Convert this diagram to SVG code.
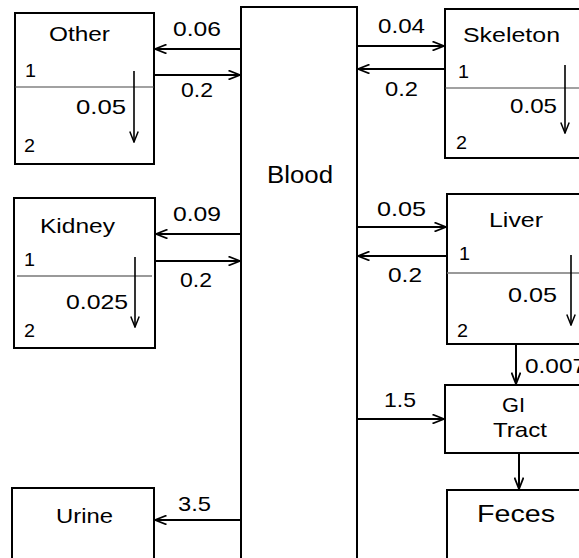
<svg xmlns="http://www.w3.org/2000/svg" width="579" height="558" viewBox="0 0 579 558">
<style>
.box{fill:#fff;stroke:#000;stroke-width:2}
.div{stroke:#444;stroke-width:1.2}
.div2{stroke:#777;stroke-width:1.4}
.ln{stroke:#000;stroke-width:2;fill:none}
.dn{stroke:#000;stroke-width:1.6;fill:none}
text{font-family:"Liberation Sans",Arial,sans-serif;fill:#000}
.t{font-size:21px}
.s{font-size:18px}
.b{font-size:23px}
</style>
<defs>
<marker id="a" viewBox="0 0 13 10" refX="12" refY="5" markerWidth="13" markerHeight="10" orient="auto" markerUnits="userSpaceOnUse">
<path d="M0.5,0.5 L12,5 L0.5,9.5" fill="none" stroke="#000" stroke-width="1.8"/>
</marker>
<marker id="d" viewBox="0 0 10 12" refX="5" refY="11" markerWidth="10" markerHeight="12" orient="0" markerUnits="userSpaceOnUse">
<path d="M0.8,0.5 L5,11 L9.2,0.5" fill="none" stroke="#000" stroke-width="1.5"/>
</marker>
</defs>

<g id="blood">
<rect class="box" x="241" y="7" width="116" height="600"/>
<text class="b" x="267" y="183" textLength="66" lengthAdjust="spacingAndGlyphs">Blood</text>
</g>

<g id="other">
<rect class="box" x="15" y="13" width="139" height="151"/>
<line class="div" x1="15" y1="87" x2="154" y2="87"/>
<text class="t" x="49" y="41" textLength="61" lengthAdjust="spacingAndGlyphs">Other</text>
<text class="s" x="25" y="77" textLength="11" lengthAdjust="spacingAndGlyphs">1</text>
<text class="s" x="24" y="152" textLength="11" lengthAdjust="spacingAndGlyphs">2</text>
<text class="t" x="76" y="114" textLength="50" lengthAdjust="spacingAndGlyphs">0.05</text>
<line class="dn" x1="134" y1="71" x2="134" y2="142" marker-end="url(#d)"/>
</g>

<g id="skeleton">
<rect class="box" x="445" y="9" width="200" height="149"/>
<line class="div" x1="445" y1="88" x2="580" y2="88"/>
<text class="t" x="463" y="42" textLength="97" lengthAdjust="spacingAndGlyphs">Skeleton</text>
<text class="s" x="458" y="78" textLength="11" lengthAdjust="spacingAndGlyphs">1</text>
<text class="s" x="456" y="149" textLength="11" lengthAdjust="spacingAndGlyphs">2</text>
<text class="t" x="510" y="113" textLength="47" lengthAdjust="spacingAndGlyphs">0.05</text>
<line class="dn" x1="565" y1="65" x2="565" y2="133" marker-end="url(#d)"/>
</g>

<g id="kidney">
<rect class="box" x="14" y="198" width="141" height="150"/>
<line class="div2" x1="17" y1="276" x2="152" y2="276"/>
<text class="t" x="40" y="233" textLength="75" lengthAdjust="spacingAndGlyphs">Kidney</text>
<text class="s" x="24" y="266" textLength="11" lengthAdjust="spacingAndGlyphs">1</text>
<text class="s" x="24" y="337" textLength="11" lengthAdjust="spacingAndGlyphs">2</text>
<text class="t" x="66" y="309" textLength="62" lengthAdjust="spacingAndGlyphs">0.025</text>
<line class="dn" x1="135" y1="257" x2="135" y2="327" marker-end="url(#d)"/>
</g>

<g id="liver">
<rect class="box" x="447" y="194" width="200" height="150"/>
<line class="div2" x1="447" y1="273" x2="580" y2="273"/>
<text class="t" x="489" y="227" textLength="54" lengthAdjust="spacingAndGlyphs">Liver</text>
<text class="s" x="459" y="260" textLength="11" lengthAdjust="spacingAndGlyphs">1</text>
<text class="s" x="457" y="337" textLength="11" lengthAdjust="spacingAndGlyphs">2</text>
<text class="t" x="508" y="302" textLength="49" lengthAdjust="spacingAndGlyphs">0.05</text>
<line class="dn" x1="571" y1="255" x2="571" y2="325" marker-end="url(#d)"/>
</g>

<g id="gi">
<rect class="box" x="445" y="385" width="200" height="68"/>
<text class="t" x="502" y="412" textLength="23" lengthAdjust="spacingAndGlyphs">GI</text>
<text class="t" x="493" y="437" textLength="54" lengthAdjust="spacingAndGlyphs">Tract</text>
</g>

<g id="feces">
<rect class="box" x="447" y="490" width="200" height="100"/>
<text class="b" x="477" y="522" textLength="78" lengthAdjust="spacingAndGlyphs">Feces</text>
</g>

<g id="urine">
<rect class="box" x="12" y="488" width="142" height="100"/>
<text class="t" x="56" y="523" textLength="57" lengthAdjust="spacingAndGlyphs">Urine</text>
</g>

<g id="connectors">
<line class="ln" x1="241" y1="49" x2="155" y2="49" marker-end="url(#a)"/>
<text class="t" x="173" y="36" textLength="48" lengthAdjust="spacingAndGlyphs">0.06</text>
<line class="ln" x1="154" y1="75" x2="240" y2="75" marker-end="url(#a)"/>
<text class="t" x="181" y="97" textLength="32" lengthAdjust="spacingAndGlyphs">0.2</text>

<line class="ln" x1="357" y1="46" x2="444" y2="46" marker-end="url(#a)"/>
<text class="t" x="378" y="33" textLength="47" lengthAdjust="spacingAndGlyphs">0.04</text>
<line class="ln" x1="445" y1="69" x2="358" y2="69" marker-end="url(#a)"/>
<text class="t" x="385" y="96" textLength="33" lengthAdjust="spacingAndGlyphs">0.2</text>

<line class="ln" x1="241" y1="234" x2="156" y2="234" marker-end="url(#a)"/>
<text class="t" x="173" y="221" textLength="48" lengthAdjust="spacingAndGlyphs">0.09</text>
<line class="ln" x1="155" y1="261" x2="240" y2="261" marker-end="url(#a)"/>
<text class="t" x="180" y="287" textLength="32" lengthAdjust="spacingAndGlyphs">0.2</text>

<line class="ln" x1="357" y1="227" x2="446" y2="227" marker-end="url(#a)"/>
<text class="t" x="377" y="216" textLength="49" lengthAdjust="spacingAndGlyphs">0.05</text>
<line class="ln" x1="447" y1="256" x2="358" y2="256" marker-end="url(#a)"/>
<text class="t" x="388" y="282" textLength="34" lengthAdjust="spacingAndGlyphs">0.2</text>

<line class="ln" x1="516" y1="344" x2="516" y2="384" marker-end="url(#a)"/>
<text class="t" x="525" y="373" textLength="61" lengthAdjust="spacingAndGlyphs">0.007</text>

<line class="ln" x1="357" y1="419" x2="444" y2="419" marker-end="url(#a)"/>
<text class="t" x="384" y="407" textLength="32" lengthAdjust="spacingAndGlyphs">1.5</text>

<line class="ln" x1="519" y1="453" x2="519" y2="489" marker-end="url(#a)"/>

<line class="ln" x1="241" y1="520" x2="155" y2="520" marker-end="url(#a)"/>
<text class="t" x="178" y="511" textLength="33" lengthAdjust="spacingAndGlyphs">3.5</text>
</g>
</svg>
